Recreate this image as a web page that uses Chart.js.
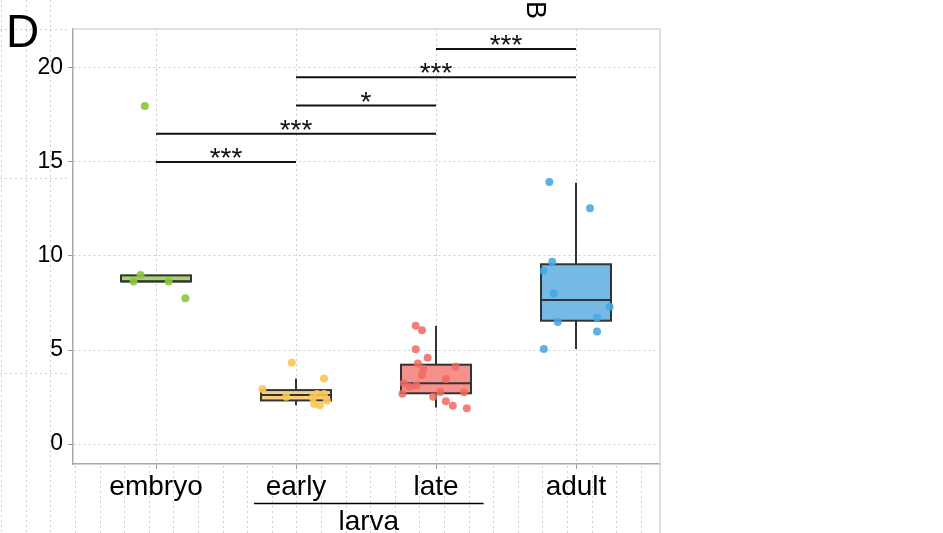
<!DOCTYPE html>
<html>
<head>
<meta charset="utf-8">
<script src="https://cdn.jsdelivr.net/npm/chart.js@4.4.1/dist/chart.umd.min.js"></script>
<style>
    html, body { margin: 0; padding: 0; background: #fff; }
    #chart { display: block; }
</style>
</head>
<body>
<canvas id="chart" width="943" height="533"></canvas>
<script>
// categories and axis ticks
const categories = ['embryo', 'early', 'late', 'adult'];
const yTicks = [0, 5, 10, 15, 20];

// box statistics per category
const boxLow = [8.65, 2.07, 1.95, 5.05];
const boxQ1 = [8.65, 2.32, 2.70, 6.56];
const boxMedian = [8.65, 2.61, 3.23, 7.66];
const boxQ3 = [8.97, 2.87, 4.22, 9.56];
const boxHigh = [8.97, 3.49, 6.28, 13.9];

const embryoValues = [17.98, 8.99, 8.65, 8.65, 7.75];
const embryoJitter = [-0.08, -0.11, -0.16, 0.09, 0.21];
const earlyValues = [4.32, 3.49, 2.93, 2.52, 2.66, 2.66, 2.48, 2.30, 2.13, 2.07];
const earlyJitter = [-0.03, 0.20, -0.24, -0.07, 0.15, 0.20, 0.12, 0.22, 0.13, 0.17];
const lateValues = [6.29, 6.05, 5.04, 4.59, 4.29, 4.11, 4.01, 3.67, 3.46, 3.23, 3.05, 3.12, 2.77, 2.68, 2.75, 2.52, 2.27, 2.04, 1.91];
const lateJitter = [-0.145, -0.10, -0.145, -0.06, -0.13, 0.14, -0.09, -0.10, 0.07, -0.23, -0.19, -0.14, 0.03, -0.24, 0.20, -0.02, 0.07, 0.12, 0.22];
const adultValues = [13.94, 12.54, 9.70, 9.20, 8.01, 7.30, 6.72, 6.49, 5.99, 5.05];
const adultJitter = [-0.19, 0.10, -0.17, -0.23, -0.16, 0.24, 0.15, -0.13, 0.15, -0.23];

// significance brackets
const sigFrom = [1, 1, 2, 2, 3];
const sigTo = [2, 3, 3, 4, 4];
const sigLevel = [15, 16.5, 18, 19.5, 21];
const sigLabel = ['***', '***', '*', '***', '***'];

const pointColors = ['rgba(140,198,63,0.9)', 'rgba(251,198,84,0.9)', 'rgba(239,106,99,0.85)', 'rgba(66,168,228,0.88)'];
const boxColors = ['#a6d36b', '#f8cf7a', '#f5918a', '#75b9e6'];
const FONT = '"Liberation Sans", Arial, sans-serif';
const boxHalf = 0.25;

function toPoints(values, jitter, pos) {
    return values.map((v, i) => ({ x: pos + jitter[i], y: v }));
}

const groups = [
    [embryoValues, embryoJitter],
    [earlyValues, earlyJitter],
    [lateValues, lateJitter],
    [adultValues, adultJitter]
];

const datasets = groups.map((g, i) => ({
    label: categories[i],
    data: toPoints(g[0], g[1], i + 1),
    pointRadius: 4,
    pointHoverRadius: 4,
    pointBorderWidth: 0,
    backgroundColor: pointColors[i],
    borderColor: pointColors[i]
}));

/**
 * page background: the dotted traces of the neighbouring panel
 */
const backdrop = {
    id: 'backdrop',
    beforeDraw(chart) {
        const ctx = chart.ctx;
        const area = chart.chartArea;
        ctx.save();
        ctx.fillStyle = '#fff';
        ctx.fillRect(0, 0, chart.width, chart.height);
        ctx.strokeStyle = '#cfcfcf';
        ctx.lineWidth = 1;
        ctx.setLineDash([2, 3]);
        const step = 24.6;
        for (let x = area.left + 2 - step * 3; x < area.right; x += step) {
            ctx.beginPath();
            if (x < area.left) {
                ctx.moveTo(Math.round(x) + 0.5, 0);
            } else {
                ctx.moveTo(Math.round(x) + 0.5, area.bottom + 2);
            }
            ctx.lineTo(Math.round(x) + 0.5, chart.height);
            ctx.stroke();
        }
        [area.top, area.top + 149, area.top + 344].forEach(y => {
            ctx.beginPath();
            ctx.moveTo(0, y + 0.5);
            ctx.lineTo(area.left - 6, y + 0.5);
            ctx.stroke();
        });
        ctx.restore();
    },
    afterDraw(chart) {
        const ctx = chart.ctx;
        const area = chart.chartArea;
        ctx.save();
        // light frame on top and right
        ctx.strokeStyle = '#d6d6d6';
        ctx.lineWidth = 1.5;
        ctx.beginPath();
        ctx.moveTo(area.left, area.top);
        ctx.lineTo(area.right, area.top);
        ctx.lineTo(area.right, chart.height);
        ctx.stroke();

        // panel letter
        ctx.fillStyle = '#000';
        ctx.font = '46px ' + FONT;
        ctx.textAlign = 'left';
        ctx.textBaseline = 'alphabetic';
        ctx.fillText('D', 6, 47);

        // cut-off rotated letter of the next panel
        ctx.save();
        ctx.translate(527, 1);
        ctx.rotate(Math.PI / 2);
        ctx.font = '27px ' + FONT;
        ctx.fillText('B', 0, 0);
        ctx.restore();

        // larva group bracket below the axis
        const x = chart.scales.x;
        const x0 = x.getPixelForValue(2 - 0.3);
        const x1 = x.getPixelForValue(3 + 0.34);
        ctx.strokeStyle = '#000';
        ctx.lineWidth = 1.5;
        ctx.beginPath();
        ctx.moveTo(x0, area.bottom + 39.5);
        ctx.lineTo(x1, area.bottom + 39.5);
        ctx.stroke();
        ctx.font = '28px ' + FONT;
        ctx.textAlign = 'center';
        ctx.textBaseline = 'middle';
        ctx.fillText('larva', (x0 + x1) / 2, area.bottom + 58);
        ctx.restore();
    }
};

/**
 * box and whisker shapes, drawn under the points
 */
const boxes = {
    id: 'boxes',
    beforeDatasetsDraw(chart) {
        const ctx = chart.ctx;
        const x = chart.scales.x;
        const y = chart.scales.y;
        ctx.save();
        ctx.strokeStyle = '#333';
        ctx.lineWidth = 2;
        categories.forEach((c, i) => {
            const pos = i + 1;
            const left = x.getPixelForValue(pos - boxHalf);
            const right = x.getPixelForValue(pos + boxHalf);
            const mid = x.getPixelForValue(pos);
            const top = y.getPixelForValue(boxQ3[i]);
            const bottom = y.getPixelForValue(boxQ1[i]);
            ctx.beginPath();
            ctx.moveTo(mid, y.getPixelForValue(boxHigh[i]));
            ctx.lineTo(mid, top);
            ctx.moveTo(mid, bottom);
            ctx.lineTo(mid, y.getPixelForValue(boxLow[i]));
            ctx.stroke();
            ctx.fillStyle = boxColors[i];
            ctx.fillRect(left, top, right - left, bottom - top);
            ctx.strokeRect(left, top, right - left, bottom - top);
            const med = y.getPixelForValue(boxMedian[i]);
            ctx.beginPath();
            ctx.moveTo(left, med);
            ctx.lineTo(right, med);
            ctx.stroke();
        });
        ctx.restore();
    },
    afterDatasetsDraw(chart) {
        const ctx = chart.ctx;
        const x = chart.scales.x;
        const y = chart.scales.y;
        ctx.save();
        ctx.strokeStyle = '#111';
        ctx.fillStyle = '#111';
        ctx.lineWidth = 2;
        ctx.font = '28px ' + FONT;
        ctx.textAlign = 'center';
        ctx.textBaseline = 'alphabetic';
        sigLabel.forEach((label, i) => {
            const x0 = x.getPixelForValue(sigFrom[i]);
            const x1 = x.getPixelForValue(sigTo[i]);
            const yy = y.getPixelForValue(sigLevel[i]);
            ctx.beginPath();
            ctx.moveTo(x0, yy);
            ctx.lineTo(x1, yy);
            ctx.stroke();
            const m = ctx.measureText(label);
            const centre = yy - 9;
            const base = centre + (m.actualBoundingBoxAscent - m.actualBoundingBoxDescent) / 2;
            ctx.fillText(label, (x0 + x1) / 2, base);
        });
        ctx.restore();
    }
};

new Chart(document.querySelector('#chart'), {
    type: 'scatter',
    data: { datasets: datasets },
    options: {
        responsive: false,
        animation: false,
        devicePixelRatio: 1,
        layout: {
            padding: { left: 0, top: 29, right: 283, bottom: 0 }
        },
        plugins: {
            legend: { display: false },
            tooltip: { enabled: false }
        },
        scales: {
            x: {
                type: 'linear',
                min: 0.407,
                max: 4.6,
                afterBuildTicks: axis => {
                    axis.ticks = categories.map((c, i) => ({ value: i + 1 }));
                },
                afterFit: scale => { scale.height = 69; },
                ticks: {
                    color: '#000',
                    padding: 1,
                    font: { family: FONT, size: 28 },
                    callback: v => categories[v - 1]
                },
                grid: {
                    color: '#cccccc',
                    tickColor: '#999',
                    tickLength: 5,
                    tickBorderDash: []
                },
                border: { display: true, color: '#a8a8a8', width: 1.5, dash: [2, 3] }
            },
            y: {
                min: -1.06,
                max: 22.07,
                afterBuildTicks: axis => {
                    axis.ticks = yTicks.map(v => ({ value: v }));
                },
                afterFit: scale => { scale.width = 73; },
                ticks: {
                    color: '#000',
                    padding: 5,
                    font: { family: FONT, size: 23 }
                },
                grid: {
                    color: '#cccccc',
                    tickColor: '#999',
                    tickLength: 5,
                    tickBorderDash: []
                },
                border: { display: true, color: '#a8a8a8', width: 1.5, dash: [2, 3] }
            }
        }
    },
    plugins: [backdrop, boxes]
});
</script>
</body>
</html>
